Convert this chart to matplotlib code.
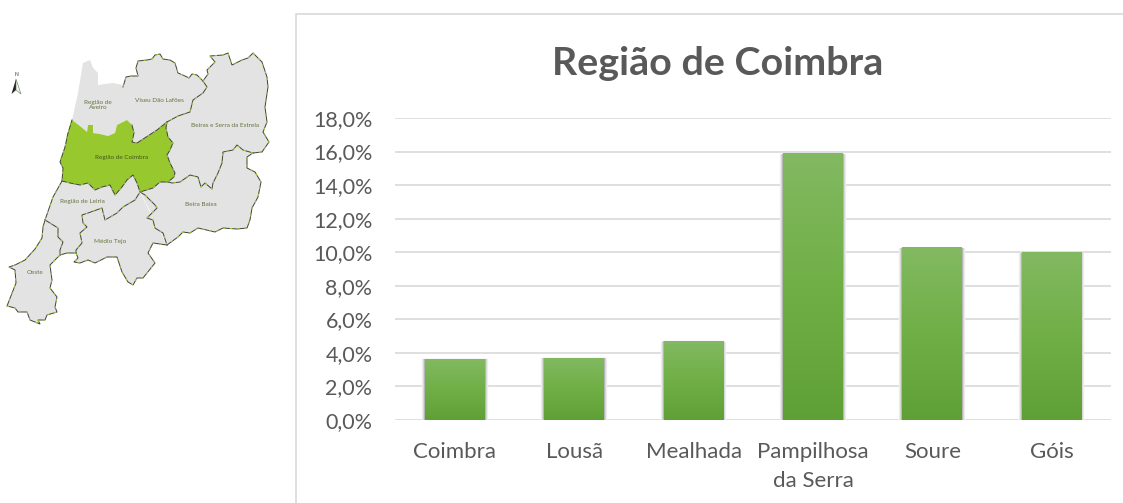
import numpy as np
import matplotlib
matplotlib.use("Agg")
import matplotlib.pyplot as plt
from matplotlib.colors import LinearSegmentedColormap
from matplotlib.patches import Polygon
import matplotlib.patheffects as pe

# ---- chart data ----
categories = ["Coimbra", "Lousã", "Mealhada", "Pampilhosa\nda Serra", "Soure", "Góis"]
values = [3.63, 3.7, 4.7, 15.9, 10.3, 10.0]
y_ticks = [0, 2, 4, 6, 8, 10, 12, 14, 16, 18]
y_labels = [f"{v:.1f}".replace(".", ",") + "%" for v in y_ticks]
title = "Região de Coimbra"

# ---- locator map: boundary segments (pixels) ----
aveiro_top = [(72,120),(78,93),(83,63),(90,60),(93,68),(98,73),(98,85),(113,83),(123,85),(123,87)]
viseu_top = [(123,87),(126,77),(131,76),(138,76),(136,68),(138,61),(147,60),(152,59),(155,55),(160,54),(163,59),
             (170,60),(175,63),(178,73),(185,76),(189,78),(192,74),(197,75),(203,81)]
viseu_beiras = [(203,81),(207,87),(203,93),(193,100),(190,112),(178,116),(167,122)]
viseu_coimbra = [(167,122),(157,130),(137,143),(132,142),(134,133),(132,125),(127,120),(117,125),(115,133),(108,136),
                 (100,134),(93,133),(93,125),(88,125),(87,132),(80,126),(72,120)]
beiras_outer = [(203,81),(208,74),(207,70),(215,62),(210,56),(223,55),(228,53),(232,65),(242,60),(248,58),(253,53),
                (262,62),(267,77),(268,87),(265,107),(267,122),(263,132),(269,142),(262,152),(253,153)]
beiras_baixa = [(253,153),(243,150),(237,145),(233,150),(223,152),(222,163),(218,173),(213,183),(212,189),(205,183),
                (201,187),(198,177),(190,175),(180,182),(172,183),(168,182)]
beiras_coimbra = [(168,182),(174,177),(175,173),(170,163),(167,155),(170,150),(173,143),(168,137),(166,128),(167,122)]
baixa_outer = [(253,153),(247,157),(247,168),(255,172),(261,182),(258,197),(252,208),(250,220),(247,228),(237,229),
               (223,228),(215,232),(198,228),(190,233),(183,232),(178,237),(167,245)]
baixa_tejo = [(167,245),(163,233),(155,228),(153,220),(147,218),(157,208),(155,205),(145,195),(140,192)]
coimbra_baixa = [(168,182),(160,182),(153,188),(140,192)]
coimbra_south = [(140,192),(137,183),(133,175),(127,180),(122,187),(115,195),(110,185),(102,187),(95,190),(88,183),
                 (80,185),(70,183),(62,181)]
coimbra_coast = [(62,181),(63,168),(60,162),(65,147),(68,133),(72,120)]
leiria_tejo = [(140,192),(135,200),(123,207),(117,213),(105,220),(102,208),(88,213),(82,215),(83,223),(87,227),(80,233),
               (82,243),(76,250),(76,253)]
tejo_south = [(76,253),(78,258),(74,262),(80,263),(88,260),(95,263),(107,257),(117,257),(122,272),(128,282),(133,285),
              (137,278),(143,278),(155,263),(148,253),(153,243),(167,245)]
leiria_south = [(76,253),(67,253),(60,255)]
leiria_oeste = [(60,255),(60,250),(63,242),(58,237),(58,228),(50,223),(45,220)]
leiria_coast = [(45,220),(53,197),(62,181)]
oeste_outer = [(60,255),(50,265),(52,280),(50,288),(57,297),(55,307),(57,312),(47,315),(45,320),(38,320),(40,324),(30,320),
               (27,312),(18,312),(15,308),(7,306),(16,283),(15,270),(9,267),(15,265),(25,260),(35,249),(42,238),(43,227),(45,220)]
map_labels = [("Região de\nAveiro",98,105),("Viseu Dão Lafões",159,100),("Beiras e Serra da Estrela",225,125),
              ("Região de Coimbra",122,158),("Região de Leiria",82,201),("Beira Baixa",201,204),("Médio Tejo",110,241),("Oeste",35,272)]

aveiro_viseu = aveiro_top + viseu_top + viseu_beiras + viseu_coimbra
coimbra = viseu_coimbra + coimbra_coast[::-1] + coimbra_south[::-1] + coimbra_baixa[::-1] + beiras_coimbra
beiras = viseu_beiras[::-1] + beiras_outer + beiras_baixa + beiras_coimbra
baixa = beiras_baixa[::-1] + baixa_outer + baixa_tejo + coimbra_baixa[::-1]
tejo = baixa_tejo[::-1] + leiria_tejo + tejo_south + baixa_tejo[:1]
leiria = coimbra_south + leiria_coast[::-1] + leiria_oeste[::-1] + leiria_south[::-1] + leiria_tejo[::-1]
oeste = oeste_outer + leiria_oeste[::-1]
borders = [viseu_top, viseu_beiras, viseu_coimbra[:6], beiras_outer, beiras_baixa, beiras_coimbra, baixa_outer, baixa_tejo,
           coimbra_baixa, coimbra_south, coimbra_coast, leiria_tejo, tejo_south, leiria_south, leiria_oeste, leiria_coast, oeste_outer]

W, H = 1123, 503
plt.rcParams["font.family"] = ["Lato", "DejaVu Sans"]
TXT = "#595959"
GRID = "#D9D9D9"
fig = plt.figure(figsize=(W/100, H/100), dpi=100, facecolor="white")

bg = fig.add_axes([0, 0, 1, 1])
bg.set_xlim(0, W); bg.set_ylim(H, 0); bg.axis("off")
bg.plot([296, 296, W], [H, 13.5, 13.5], color=GRID, lw=1.2, solid_joinstyle="miter")

for pts in [aveiro_viseu, beiras, baixa, tejo, leiria, oeste]:
    bg.add_patch(Polygon(pts, closed=True, fc="#E3E3E3", ec="none"))
bg.add_patch(Polygon(coimbra, closed=True, fc="#97C92F", ec="none"))
for seg in borders:
    xs, ys = zip(*seg)
    bg.plot(xs, ys, color="#3f3f3f", lw=0.7, solid_joinstyle="round")
    bg.plot(xs, ys, color="#A4D23C", lw=0.7, dashes=(2.5, 5))
for txt, x, y in map_labels:
    col = "#3a4a1a" if "Coimbra" in txt else "#56692c"
    bg.text(x, y, txt, fontsize=4.6, color=col, ha="center", va="center", linespacing=1.0, alpha=0.9)
bg.text(16, 74.5, "N", fontsize=3.5, color="#222222", ha="center", va="center")
bg.add_patch(Polygon([(16, 79), (11.5, 94), (16, 90)], closed=True, fc="#222222", ec="none"))
bg.add_patch(Polygon([(16, 79), (21, 94), (16, 90)], closed=True, fc="#f4f4f4", ec="#667755", lw=0.4))

# ---- bar chart ----
left, right, top, bottom = 395.3, 1111.3, 118, 420
ax = fig.add_axes([left/W, 1-bottom/H, (right-left)/W, (bottom-top)/H])
ax.set_facecolor("none")
x = np.arange(len(categories))
ax.set_xlim(-0.5, len(categories)-0.5)
ax.set_ylim(0, 18)
ax.set_yticks(y_ticks, y_labels)
ax.set_xticks(x, categories)
ax.tick_params(axis="y", length=0, labelsize=15.5, labelcolor=TXT, pad=16.5)
ax.tick_params(axis="x", length=0, labelsize=16, labelcolor=TXT, pad=15.7)
for label in ax.get_xticklabels():
    label.set_linespacing(1.55)
ax.grid(axis="y", color=GRID, lw=1.2, zorder=0)
ax.set_axisbelow(True)
for s in ax.spines.values():
    s.set_visible(False)

cmap = LinearSegmentedColormap.from_list("g", ["#83B962", "#70AF46", "#5FA036"])
grad = np.linspace(0, 1, 256).reshape(-1, 1)
bars = ax.bar(x, values, width=0.5, color="#70AD47", zorder=2,
              path_effects=[pe.withStroke(linewidth=w, foreground=c, offset=(0, -w/2 - 0.2)) for w, c in
                            [(4.5, "#EFEFEF"), (3, "#D9D9D9"), (1.5, "#B5B5B5")]] + [pe.Normal()])
for b in bars:
    im = ax.imshow(grad, cmap=cmap, aspect="auto", zorder=3,
                   extent=(b.get_x(), b.get_x()+b.get_width(), 0, b.get_height()))
    im.set_clip_path(b)
ax.set_xlim(-0.5, len(categories)-0.5)
ax.set_ylim(0, 18)

bg.text(718, 63.5, title, fontsize=28.4, fontweight="bold", color=TXT, ha="center", va="center")

fig.savefig("out.png", dpi=100, facecolor="white")
